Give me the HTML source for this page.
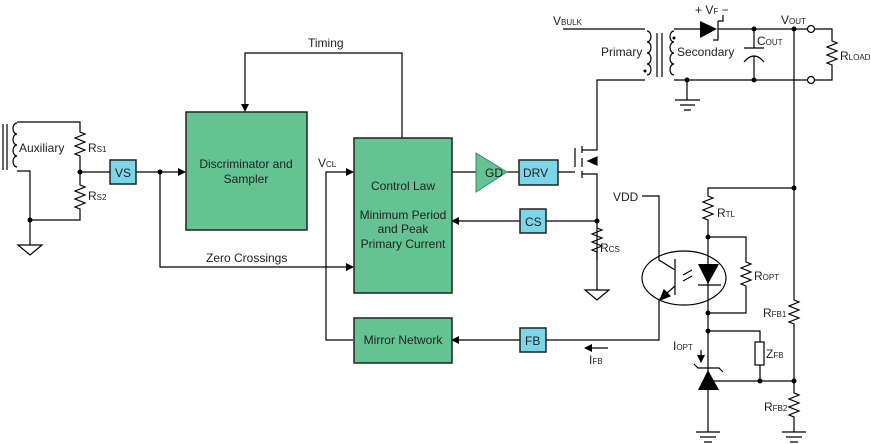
<!DOCTYPE html>
<html><head><style>
html,body{margin:0;padding:0;background:#fff;}
svg{display:block;font-family:"Liberation Sans",sans-serif;}
text{fill:#222;font-size:12px;}
.s{font-size:8px;}
</style></head><body>
<svg width="871" height="444" viewBox="0 0 871 444" xmlns="http://www.w3.org/2000/svg">
<defs>
<marker id="a" markerWidth="8" markerHeight="8" refX="7" refY="4" orient="auto" markerUnits="userSpaceOnUse"><path d="M0,0 L8,4 L0,8 z" fill="#000"/></marker>
</defs>
<g stroke="#000" stroke-width="1.2" fill="none">
<!-- Auxiliary -->
<line x1="3" y1="124" x2="3" y2="170"/><line x1="7" y1="124" x2="7" y2="170"/>
<path d="M17,123 a4,5.5 0 0 0 0,11 a4,5.5 0 0 0 0,11 a4,5.5 0 0 0 0,11 a4,5.5 0 0 0 0,11"/>
<path d="M17,122 H80 V132 l5,2 -10,4 10,4 -10,4 10,4 -10,4 5,2 V185 l5,2 -10,4 10,4 -10,4 10,4 -10,4 5,2 V220 H30"/>
<path d="M17,171 H30 V245"/>
<path d="M18,245 H42 L30,255 Z"/>
<line x1="80" y1="172" x2="110" y2="172"/>
<line x1="136" y1="172" x2="185" y2="172" marker-end="url(#a)"/>
<path d="M160,172 V267 H353" marker-end="url(#a)"/>
<!-- Timing -->
<path d="M402,138 V53 H245 V111" marker-end="url(#a)"/>
<!-- VCL -->
<path d="M353,340 H326 V172 H353" marker-end="url(#a)"/>
<!-- GD / DRV -->
<line x1="452" y1="172" x2="476" y2="172"/>
<line x1="507" y1="172" x2="519" y2="172"/>
<path d="M558,172 H575 M575,148 V167 M582,146 V153 M582,158 V167 M582,171 V178 M582,150 H597 V80 H645 M582,174 H597 V260"/>
<path d="M597,165 L588,161 597,157 Z" fill="#000"/>
<path d="M520,221 H452" marker-end="url(#a)"/>
<line x1="546" y1="221" x2="597" y2="221"/>
<path d="M597,228 l5,2 -10,4 10,4 -10,4 10,4 -10,4 5,2 V290"/>
<path d="M585,290 H609 L597,300 Z"/>
<!-- FB -->
<path d="M520,340 H452" marker-end="url(#a)"/>
<path d="M546,340 H659 V300"/>
<line x1="608" y1="348" x2="585" y2="348" marker-end="url(#a)"/>
<!-- transformer -->
<line x1="563" y1="29" x2="645" y2="29"/>
<path d="M647,31 a4,5.5 0 0 1 0,11 a4,5.5 0 0 1 0,11 a4,5.5 0 0 1 0,11 a4,5.5 0 0 1 0,11"/>
<line x1="657" y1="33" x2="657" y2="77"/><line x1="662" y1="33" x2="662" y2="77"/>
<path d="M674,31 a4,5.5 0 0 0 0,11 a4,5.5 0 0 0 0,11 a4,5.5 0 0 0 0,11 a4,5.5 0 0 0 0,11"/>
<path d="M674,29 H700 M718,29 H808 M674,80 H808"/>
<path d="M718,21 V40 H713 M718,21 H723 V15"/>
<path d="M687,80 V100 M675,100 H700 M680,105 H695 M684,110 H691"/>
<path d="M754,29 V48 M744,48 H764 M744,62 Q754,50 764,62 M754,56 V80"/>
<circle cx="811" cy="29" r="3.5" fill="#fff"/><circle cx="811" cy="80" r="3.5" fill="#fff"/>
<path d="M815,29 H832 V41 l5,2 -10,4 10,4 -10,4 10,4 -10,4 5,2 V80 H815"/>
<!-- right side -->
<path d="M794,29 V300 l5,2 -10,4 10,4 -10,4 10,4 -10,4 5,2 V393 l5,2 -10,4 10,4 -10,4 10,4 -10,4 5,2 V432"/>
<path d="M782,432 H806 M786,437 H802 M790,442 H798"/>
<path d="M794,188 H708 V196 l5,2 -10,4 10,4 -10,4 10,4 -10,4 5,2 V432"/>
<path d="M696,432 H720 M700,437 H716 M704,442 H712"/>
<path d="M708,237 H746 V262 l5,2 -10,4 10,4 -10,4 10,4 -10,4 5,2 V313 H708"/>
<path d="M708,331 H760 V342 M760,365 V381 H794 M708,381 H760"/>
<rect x="755" y="342" width="9" height="23" fill="#fff"/>
<line x1="698" y1="285" x2="721" y2="285"/>
<path d="M694,364 L698,368 H719 L723,372"/>
<line x1="701" y1="350" x2="701" y2="362" marker-end="url(#a)"/>
<!-- optocoupler -->
<ellipse cx="684" cy="278" rx="42" ry="27"/>
<path d="M642,196 H659 V260 L675,270 M675,259 V295 M675,286 L659,300"/>
<path d="M664,290 L660,300 L670,296 Z" fill="#000"/>
<path d="M692,270 L683,275 M692,276 L683,281"/>
</g>
<g fill="#000">
<path d="M698,264 H719 L708,284 Z"/>
<path d="M698,390 H719 L708,370 Z"/>
<path d="M700,21 L700,38 L717,29 Z"/>
<circle cx="80" cy="172" r="2.5"/><circle cx="30" cy="220" r="2.5"/><circle cx="160" cy="172" r="2.5"/>
<circle cx="597" cy="221" r="2.5"/><circle cx="687" cy="80" r="2.5"/><circle cx="754" cy="29" r="2.5"/><circle cx="754" cy="80" r="2.5"/>
<circle cx="794" cy="29" r="2.5"/><circle cx="794" cy="188" r="2.5"/><circle cx="708" cy="237" r="2.5"/><circle cx="708" cy="313" r="2.5"/>
<circle cx="708" cy="331" r="2.5"/><circle cx="760" cy="381" r="2.5"/><circle cx="794" cy="381" r="2.5"/>
<circle cx="674" cy="38" r="1.5"/><circle cx="645" cy="71" r="1.5"/>
</g>
<!-- boxes -->
<g stroke="#222" stroke-width="1.5">
<rect x="186" y="112" width="121" height="118" fill="#65c393"/>
<rect x="354" y="138" width="98" height="155" fill="#65c393"/>
<rect x="354" y="318" width="98" height="45" fill="#65c393"/>
<rect x="110" y="160" width="26" height="24" fill="#7bd6ea"/>
<rect x="519" y="160" width="39" height="25" fill="#7bd6ea"/>
<rect x="520" y="209" width="26" height="24" fill="#7bd6ea"/>
<rect x="520" y="328" width="26" height="24" fill="#7bd6ea"/>
</g>
<path d="M476,153 L507,172 L476,192 Z" fill="#65c393" stroke="#3a8a62" stroke-width="1"/>
<text x="485" y="177">GD</text>
<text x="523" y="177">DRV</text>
<text x="115" y="177">VS</text>
<text x="525" y="226">CS</text>
<text x="525" y="345">FB</text>
<text x="246" y="168" text-anchor="middle">Discriminator and</text>
<text x="246" y="183" text-anchor="middle">Sampler</text>
<text x="403" y="190" text-anchor="middle">Control Law</text>
<text x="403" y="219" text-anchor="middle">Minimum Period</text>
<text x="403" y="233" text-anchor="middle">and Peak</text>
<text x="403" y="248" text-anchor="middle">Primary Current</text>
<text x="403" y="344" text-anchor="middle">Mirror Network</text>
<text x="308" y="47">Timing</text>
<text x="206" y="262">Zero Crossings</text>
<text x="19" y="152">Auxiliary</text>
<text x="88" y="152">R<tspan class="s">S1</tspan></text>
<text x="88" y="200">R<tspan class="s">S2</tspan></text>
<text x="318" y="167">V<tspan class="s">CL</tspan></text>
<text x="600" y="252">R<tspan class="s">CS</tspan></text>
<text x="613" y="201">VDD</text>
<text x="589" y="364">I<tspan class="s">FB</tspan></text>
<text x="553" y="25">V<tspan class="s">BULK</tspan></text>
<text x="601" y="56">Primary</text>
<text x="677" y="56">Secondary</text>
<text x="695" y="14">+ V<tspan class="s">F</tspan> −</text>
<text x="757" y="45">C<tspan class="s">OUT</tspan></text>
<text x="781" y="24">V<tspan class="s">OUT</tspan></text>
<text x="840" y="60">R<tspan class="s">LOAD</tspan></text>
<text x="717" y="217">R<tspan class="s">TL</tspan></text>
<text x="754" y="280">R<tspan class="s">OPT</tspan></text>
<text x="763" y="317">R<tspan class="s">FB1</tspan></text>
<text x="673" y="350">I<tspan class="s">OPT</tspan></text>
<text x="766" y="358">Z<tspan class="s">FB</tspan></text>
<text x="764" y="411">R<tspan class="s">FB2</tspan></text>
</svg>
</body></html>
